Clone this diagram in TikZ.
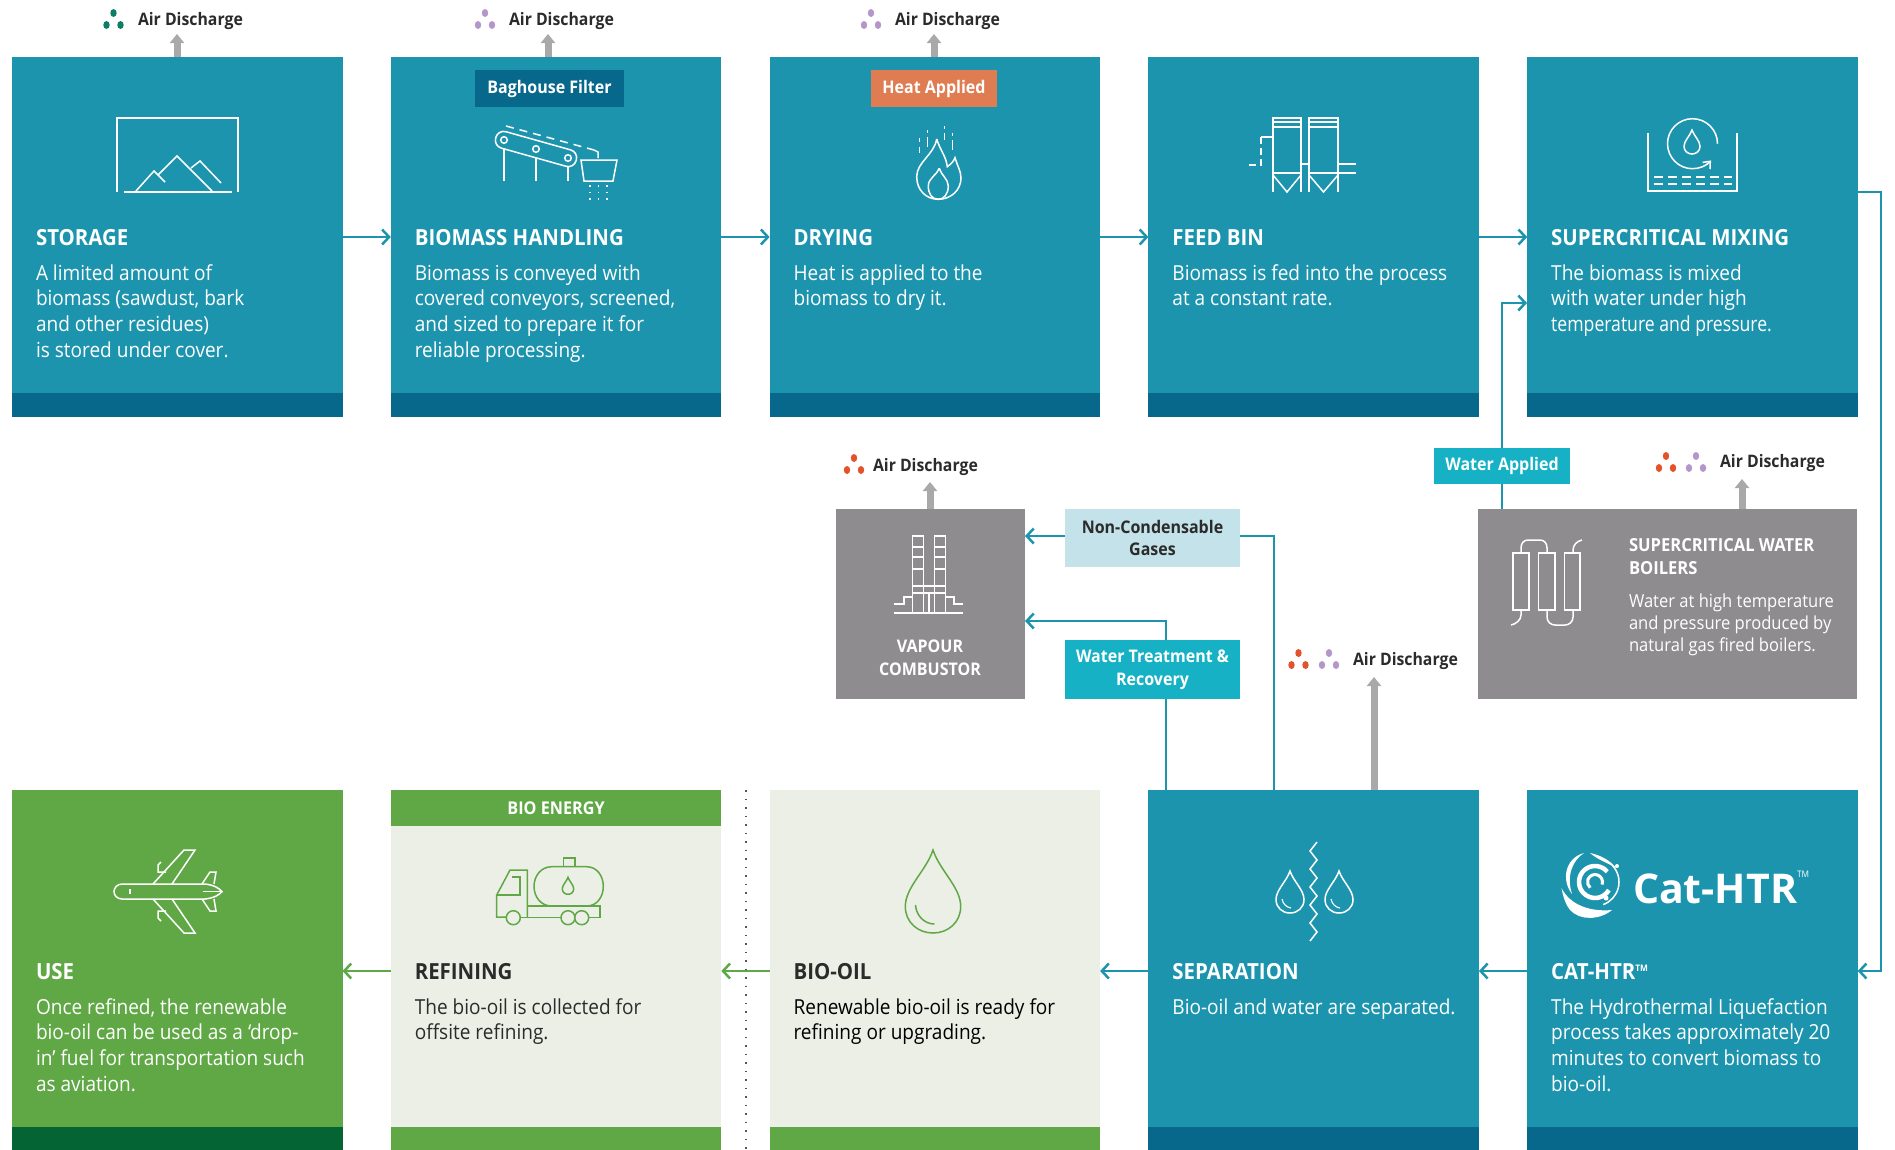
\documentclass[tikz,border=0pt]{standalone}
\usepackage{fontspec}
\setmainfont{Open Sans}[FakeStretch=0.92]
\newfontfamily\logofont{Open Sans}
\usepackage{xcolor}
\usetikzlibrary{positioning,calc,arrows.meta}

\definecolor{tealfill}{HTML}{1C94AD}
\definecolor{tealdark}{HTML}{07688C}
\definecolor{leaf}{HTML}{5FA845}
\definecolor{leafdark}{HTML}{046434}
\definecolor{leafpale}{HTML}{ECEFE5}
\definecolor{greyfill}{HTML}{8E8C8F}
\definecolor{greyarrow}{HTML}{A9A9A9}
\definecolor{aqua}{HTML}{16B1C4}
\definecolor{aquapale}{HTML}{C3E2E9}
\definecolor{heat}{HTML}{DF7C52}
\definecolor{dotgreen}{HTML}{0E7F66}
\definecolor{dotpurple}{HTML}{B596C8}
\definecolor{dotred}{HTML}{E2522B}
\definecolor{inktext}{HTML}{2B2B2B}

\newcommand{\airdots}[3]{%
    \fill[#3] (#1,#2) ellipse (3.2 and 4)
        ({#1-7},{#2+12}) ellipse (3.2 and 4)
        ({#1+7},{#2+12}) ellipse (3.2 and 4);}
\newcommand{\dropicon}[5]{%
    \draw[#1] (#2,#3) .. controls ({#2+0.25*#5},{#3+0.25*(#4-#3)}) and ({#2+#5},{#3+0.45*(#4-#3)}) .. ({#2+#5},{#3+0.68*(#4-#3)})
        .. controls ({#2+#5},{#3+0.87*(#4-#3)}) and ({#2+0.55*#5},#4) .. (#2,#4)
        .. controls ({#2-0.55*#5},#4) and ({#2-#5},{#3+0.87*(#4-#3)}) .. ({#2-#5},{#3+0.68*(#4-#3)})
        .. controls ({#2-#5},{#3+0.45*(#4-#3)}) and ({#2-0.25*#5},{#3+0.25*(#4-#3)}) .. cycle;}

\begin{document}
\begin{tikzpicture}[x=1pt, y=-1pt,
    every node/.style={inner sep=0pt, outer sep=0pt},
    panel/.style={minimum width=330.5pt, minimum height=360pt, anchor=north west, fill=#1},
    lowpanel/.style={panel=#1, minimum height=362pt},
    band/.style={minimum width=330.5pt, minimum height=24pt, anchor=south, fill=#1},
    headtext/.style={anchor=base west, text=#1, font=\fontsize{22.2}{25}\selectfont\bfseries},
    bodytext/.style={anchor=north west, align=left, text=#1, font=\fontsize{20.7}{25.6}\selectfont},
    airtext/.style={anchor=west, text=inktext, font=\fontsize{17.2}{22}\selectfont\bfseries},
    tagbox/.style={minimum width=#1, align=center, text=white, font=\fontsize{17.4}{22.7}\selectfont\bfseries},
    flow/.style={draw=tealfill, line width=2.5pt, -{Straight Barb[length=7pt,width=15pt,line width=2.5pt]}},
    flowline/.style={draw=tealfill, line width=2.5pt},
    leafflow/.style={flow, draw=leaf},
    vent/.style={draw=greyarrow, line width=7pt, -{Triangle[length=9pt,width=14pt]}},
    icon/.style={draw=white, line width=1.5pt},
    leaficon/.style={draw=leaf, line width=1.5pt}]

    \useasboundingbox (0,0) rectangle (1895,1149);

    \node[panel=tealfill] (storage) at (12,57) {};
    \node[panel=tealfill, right=48.3pt of storage] (handling) {};
    \node[panel=tealfill, right=48.3pt of handling] (drying) {};
    \node[panel=tealfill, right=48.3pt of drying] (feedbin) {};
    \node[panel=tealfill, right=48.3pt of feedbin] (mixing) {};
    \node[lowpanel=leaf] (use) at (12,790) {};
    \node[lowpanel=leafpale, right=48.3pt of use] (refining) {};
    \node[lowpanel=leafpale, right=48.3pt of refining] (biooil) {};
    \node[lowpanel=tealfill, right=48.3pt of biooil] (separation) {};
    \node[lowpanel=tealfill, right=48.3pt of separation] (cathtr) {};

    \node[band=tealdark] (storageband) at (storage.south) {};
    \node[band=tealdark] (handlingband) at (handling.south) {};
    \node[band=tealdark] (dryingband) at (drying.south) {};
    \node[band=tealdark] (feedbinband) at (feedbin.south) {};
    \node[band=tealdark] (mixingband) at (mixing.south) {};
    \node[band=leafdark, minimum height=25pt] (useband) at (use.south) {};
    \node[band=leaf, minimum height=25pt] (refiningband) at (refining.south) {};
    \node[band=leaf, minimum height=25pt] (biooilband) at (biooil.south) {};
    \node[band=tealdark, minimum height=25pt] (separationband) at (separation.south) {};
    \node[band=tealdark, minimum height=25pt] (cathtrband) at (cathtr.south) {};
    \node[minimum width=330.5pt, minimum height=36pt, anchor=north, fill=leaf, text=white, font=\fontsize{17.6}{20}\selectfont\bfseries] (bioenergy) at (refining.north) {BIO ENERGY};

    \node[headtext=white] (storagehead) at ($(storage.north west)+(24,188)$) {STORAGE};
    \node[headtext=white] (handlinghead) at ($(handling.north west)+(24,188)$) {BIOMASS HANDLING};
    \node[headtext=white] (dryinghead) at ($(drying.north west)+(24,188)$) {DRYING};
    \node[headtext=white] (feedbinhead) at ($(feedbin.north west)+(24,188)$) {FEED BIN};
    \node[headtext=white] (mixinghead) at ($(mixing.north west)+(24,188)$) {SUPERCRITICAL MIXING};
    \node[headtext=white] (usehead) at ($(use.north west)+(24,189)$) {USE};
    \node[headtext=inktext] (refininghead) at ($(refining.north west)+(24,189)$) {REFINING};
    \node[headtext=inktext] (biooilhead) at ($(biooil.north west)+(24,189)$) {BIO-OIL};
    \node[headtext=white] (separationhead) at ($(separation.north west)+(24,189)$) {SEPARATION};
    \node[headtext=white] (cathtrhead) at ($(cathtr.north west)+(24,189)$) {CAT-HTR\raisebox{8pt}{\fontsize{9}{9}\selectfont TM}};

    \node[bodytext=white] (storagebody) at ($(storage.north west)+(24,207.5)$) {A limited amount of\\biomass (sawdust, bark\\and other residues)\\is stored under cover.};
    \node[bodytext=white] (handlingbody) at ($(handling.north west)+(24,207.5)$) {Biomass is conveyed with\\covered conveyors, screened,\\and sized to prepare it for\\reliable processing.};
    \node[bodytext=white] (dryingbody) at ($(drying.north west)+(24,207.5)$) {Heat is applied to the\\biomass to dry it.};
    \node[bodytext=white] (feedbinbody) at ($(feedbin.north west)+(24,207.5)$) {Biomass is fed into the process\\at a constant rate.};
    \node[bodytext=white] (mixingbody) at ($(mixing.north west)+(24,207.5)$) {The biomass is mixed\\with water under high\\\scalebox{0.925}[1]{temperature and pressure.}};
    \node[bodytext=white] (usebody) at ($(use.north west)+(24,208.5)$) {Once refined, the renewable\\bio-oil can be used as a ‘drop-\\in’ fuel for transportation such\\as aviation.};
    \node[bodytext=inktext] (refiningbody) at ($(refining.north west)+(24,208.5)$) {The bio-oil is collected for\\offsite refining.};
    \node[bodytext=black] (biooilbody) at ($(biooil.north west)+(24,208.5)$) {Renewable bio-oil is ready for\\refining or upgrading.};
    \node[bodytext=white] (separationbody) at ($(separation.north west)+(24,208.5)$) {Bio-oil and water are separated.};
    \node[bodytext=white] (cathtrbody) at ($(cathtr.north west)+(24,208.5)$) {The Hydrothermal Liquefaction\\process takes approximately 20\\minutes to convert biomass to\\bio-oil.};

    \node[tagbox=149pt, minimum height=37pt, fill=tealdark, anchor=north west] (baghouse) at (475,70) {Baghouse Filter};
    \node[tagbox=126pt, minimum height=37pt, fill=heat, anchor=north west] (heatapplied) at (871,70) {Heat Applied};
    \node[tagbox=136pt, minimum height=36pt, fill=aqua, anchor=north west] (waterapplied) at (1434,448) {Water Applied};
    \node[tagbox=175pt, minimum height=58pt, fill=aquapale, anchor=north west, text=inktext] (noncondensable) at (1065,509) {Non-Condensable\\Gases};
    \node[tagbox=175pt, minimum height=59pt, fill=aqua, anchor=north west] (watertreatment) at (1065,640) {Water Treatment \&\\Recovery};

    \node[minimum width=189pt, minimum height=190pt, anchor=north west, fill=greyfill] (combustor) at (836,509) {};
    \node[minimum width=379pt, minimum height=190pt, anchor=north west, fill=greyfill] (boilers) at (1478,509) {};
    \node[anchor=north, align=center, text=white, font=\fontsize{17.4}{22.7}\selectfont\bfseries] (combustortext) at (930,640) {VAPOUR\\COMBUSTOR};
    \node[anchor=north west, align=left, text=white, font=\fontsize{18}{22.7}\selectfont\bfseries] (boilershead) at (1629,538.5) {SUPERCRITICAL WATER\\BOILERS};
    \node[anchor=north west, align=left, text=white, font=\fontsize{18}{22.4}\selectfont] (boilersbody) at (1629,593.5) {Water at high temperature\\and pressure produced by\\natural gas fired boilers.};

    \node[airtext] (airstorage) at (138,21) {Air Discharge};
    \node[airtext] (airhandling) at (509,21) {Air Discharge};
    \node[airtext] (airdrying) at (895,21) {Air Discharge};
    \node[airtext] (aircombustor) at (873,467) {Air Discharge};
    \node[airtext] (airseparation) at (1353,661) {Air Discharge};
    \node[airtext] (airboilers) at (1720,463) {Air Discharge};

    \airdots{113.5}{13}{dotgreen}
    \airdots{485}{13}{dotpurple}
    \airdots{871}{13}{dotpurple}
    \airdots{854}{458}{dotred}
    \airdots{1298.5}{653}{dotred}
    \airdots{1329}{653}{dotpurple}
    \airdots{1666}{456}{dotred}
    \airdots{1696}{456}{dotpurple}

    \coordinate (ventstorage) at (177,34);
    \coordinate (venthandling) at (548,34);
    \coordinate (ventdrying) at (934,34);
    \coordinate (ventcombustor) at (930,482);
    \coordinate (ventboilers) at (1742,479);
    \coordinate (ventseparation) at (1374,677);
    \draw[vent] (storage.north -| ventstorage) -- (ventstorage);
    \draw[vent] (handling.north -| venthandling) -- (venthandling);
    \draw[vent] (drying.north -| ventdrying) -- (ventdrying);
    \draw[vent] (combustor.north -| ventcombustor) -- (ventcombustor);
    \draw[vent] (boilers.north -| ventboilers) -- (ventboilers);
    \draw[vent] (separation.north -| ventseparation) -- (ventseparation);

    \draw[flow] (storage.east) -- (handling.west);
    \draw[flow] (handling.east) -- (drying.west);
    \draw[flow] (drying.east) -- (feedbin.west);
    \draw[flow] (feedbin.east) -- (mixing.west);
    \draw[flow] (cathtr.west) -- (separation.east);
    \draw[flow] (separation.west) -- (biooil.east);
    \draw[leafflow] (biooil.west) -- (refining.east);
    \draw[leafflow] (refining.west) -- (use.east);

    \coordinate (sidebend) at (1881,192);
    \coordinate (waterin) at (1527,303);
    \coordinate (gasbend) at (1274,536);
    \coordinate (treatup) at (1166,640);
    \coordinate (treatin) at (1025,621);
    \draw[flow] (mixing.north east |- sidebend) -- (sidebend) |- (cathtr.east);
    \draw[flowline] (boilers.north -| waterapplied) -- (waterapplied.south);
    \draw[flow] (waterapplied.north) |- (waterin);
    \draw[flowline] (separation.north -| gasbend) -- (gasbend) -- (noncondensable.east |- gasbend);
    \draw[flow] (noncondensable.west |- gasbend) -- (combustor.east |- gasbend);
    \draw[flowline] (separation.north -| treatup) -- (watertreatment.south -| treatup);
    \draw[flow] (treatup) |- (treatin);

    \coordinate (cutoff) at (746,790);
    \draw[line width=1.2pt, dash pattern=on 1.5pt off 7pt, draw=inktext!80] (cutoff) -- (746,1149);

    \draw[icon] (117,192) -- (117,118) -- (238,118) -- (238,192);
    \draw[icon] (124,192) -- (232,192);
    \draw[icon] (136,191) -- (154,171) -- (165,182);
    \draw[icon] (158,175) -- (177,156) -- (212,191);
    \draw[icon] (191,168) -- (200,161) -- (221,183);

    \draw[icon, rounded corners=8pt] (498.1,129.5) -- (578.5,152.1) -- (573.9,168.5) -- (493.5,145.9) -- cycle;
    \draw[icon] (504,140) circle (3.3) (536,149) circle (3.3) (568,158) circle (3.3);
    \draw[icon] (504,148.8) -- (504,181) (536,157.8) -- (536,181) (568,166.8) -- (568,181);
    \draw[icon, dash pattern=on 8pt off 6pt] (506,126) -- (594,150);
    \draw[icon] (594,150) -- (598,152) -- (598,158);
    \draw[icon] (581,160) -- (617,160) -- (613,181) -- (584,181) -- cycle;
    \draw[icon, line width=1.3pt, dash pattern=on 1.5pt off 5pt] (590,185) -- (590,201) (598.5,185) -- (598.5,201) (607,185) -- (607,201);

    \draw[icon] (936.7,139) .. controls (940,150) and (946,156) .. (947.3,166.7) .. controls (951,164) and (954,161) .. (955,157.7)
        .. controls (957,165) and (961,171) .. (961,178) .. controls (961,190) and (951,199.3) .. (938.3,199.3)
        .. controls (926,199.3) and (916.7,190) .. (916.7,176.7) .. controls (916.7,162) and (934,155) .. (936.7,139);
    \draw[icon] (939.3,168.3) .. controls (941,175) and (948.3,179) .. (948.3,186) .. controls (948.3,194) and (944,199.3) .. (938.3,199.3)
        .. controls (932,199.3) and (928.3,194) .. (928.3,186) .. controls (928.3,178) and (937,175) .. (939.3,168.3);
    \draw[icon, line width=1.2pt] (919.3,138) -- (919.3,142) (919.3,147) -- (919.3,153) (927.3,130) -- (927.3,133) (927.3,137) -- (927.3,147)
        (944.3,126) -- (944.3,129) (944.3,133) -- (944.3,140) (952.3,133) -- (952.3,136) (952.3,140) -- (952.3,150);

    \draw[icon] (1273,192) -- (1273,118) -- (1301,118) -- (1301,192) (1309,192) -- (1309,118) -- (1338,118) -- (1338,192);
    \draw[icon] (1273,122) -- (1301,122) (1273,127) -- (1301,127) (1309,122) -- (1338,122) (1309,127) -- (1338,127);
    \draw[icon] (1273,173) -- (1301,173) (1309,173) -- (1338,173);
    \draw[icon] (1273,175) -- (1287,192) -- (1301,175) (1309,175) -- (1323.5,192) -- (1338,175);
    \draw[icon] (1301,164) -- (1309,164) (1338,164) -- (1356,164) (1338,173) -- (1356,173) (1273,137) -- (1261,137);
    \draw[icon, dash pattern=on 7pt off 4pt] (1261,137) -- (1261,165) -- (1248,165);

    \draw[icon] (1648,133) -- (1648,191) -- (1737,191) -- (1737,133);
    \draw[icon, dash pattern=on 9pt off 5pt] (1654,177) -- (1732,177) (1654,184) -- (1732,184);
    \draw[icon, -{Straight Barb[length=6pt,width=10pt,line width=1.5pt]}] (1717.5,143.7) arc (0:-318:25);
    \dropicon{icon}{1692}{130}{154}{8}

    \draw[icon] (205,884) -- (122,884) .. controls (117,884) and (114,888) .. (114,891.7) .. controls (114,895) and (117,899) .. (122,899) -- (205,899)
        .. controls (214,898) and (219,895) .. (222,891.7) .. controls (219,888) and (214,885) .. (205,884);
    \draw[icon] (153,884) -- (184,850) -- (195,850) -- (172,884) (153,899) -- (184,933) -- (195,933) -- (172,899);
    \draw[icon] (161,862) -- (158,865) -- (158,872) -- (166,872) (161,921) -- (158,918) -- (158,911) -- (166,911);
    \draw[icon] (202,884) -- (210,872) -- (216,872) -- (214,884) (202,899) -- (210,911) -- (216,911) -- (214,899);
    \draw[icon] (203,891.7) -- (222,891.7) (130,889) -- (130,894);

    \draw[leaficon] (551.7,866.7) -- (586.7,866.7) .. controls (597,866.7) and (603.3,876) .. (603.3,886.3) .. controls (603.3,897) and (597,906) .. (586.7,906)
        -- (551.7,906) .. controls (541,906) and (534,897) .. (534,886.3) .. controls (534,876) and (541,866.7) .. (551.7,866.7);
    \draw[leaficon] (563.3,866.7) -- (563.3,858) -- (575,858) -- (575,866.7);
    \dropicon{leaficon}{568}{877.3}{894.3}{5.7}
    \draw[leaficon] (506.3,917) -- (496.7,917) -- (496.7,895) -- (510,870) -- (527.3,870) -- (527.3,917);
    \draw[leaficon] (496.7,895) -- (520,895) -- (520,877) -- (511.7,877);
    \draw[leaficon] (527.3,906) -- (600,906) -- (600,917.3) -- (588.7,917.3) (520.3,917.3) -- (561,917.3);
    \draw[leaficon] (513.3,917.7) circle (7) (568,917.7) circle (7) (581.7,917.7) circle (7);

    \dropicon{leaficon}{933}{850}{933}{27.7}
    \draw[leaficon] (915.5,905) .. controls (916,915) and (924,924) .. (934.4,924);

    \draw[icon] (1317,842) -- (1310,851) -- (1317,860) -- (1310,869) -- (1317,878) -- (1310,887) -- (1317,896) -- (1310,905) -- (1317,914) -- (1310,923) -- (1317,932) -- (1310,941);
    \dropicon{icon}{1290}{871}{913}{14}
    \dropicon{icon}{1339}{871}{913}{14}
    \draw[icon, line width=1.1pt] (1282,899) .. controls (1283,904) and (1286,907) .. (1291,908);
    \draw[icon, line width=1.1pt] (1331,899) .. controls (1332,904) and (1335,907) .. (1340,908);

    \draw[icon] (912.5,613) -- (912.5,536) -- (923.5,536) -- (923.5,613) (934.5,613) -- (934.5,536) -- (945.5,536) -- (945.5,613);
    \foreach \rungy in {547,557,569,586,593} {
        \draw[icon, line width=1.2pt] (912.5,\rungy) -- (923.5,\rungy) (934.5,\rungy) -- (945.5,\rungy);
    }
    \draw[icon] (923.5,586) -- (934.5,586) (923.5,593) -- (934.5,593) (929,593) -- (929,613);
    \draw[icon] (894,604) -- (904,604) -- (904,597) -- (912.5,597) (945.5,597) -- (954,597) -- (954,604) -- (962.6,604);
    \draw[icon] (894,613) -- (962.6,613);

    \draw[icon] (1513,553) rectangle (1529,610) (1538.5,553) rectangle (1555,610) (1564.5,553) rectangle (1580,610);
    \draw[icon] (1521,553) -- (1521,548) .. controls (1521,543) and (1524,540) .. (1528,540) -- (1540,540) .. controls (1544,540) and (1547,543) .. (1547,548) -- (1547,553);
    \draw[icon] (1573,553) -- (1573,550) .. controls (1573,545) and (1577,541) .. (1582,540);
    \draw[icon] (1521,610) -- (1521,615) .. controls (1521,620) and (1516,624) .. (1511,625);
    \draw[icon] (1547,610) -- (1547,617) .. controls (1547,622) and (1551,625) .. (1555,625) -- (1565,625) .. controls (1569,625) and (1573,622) .. (1573,617) -- (1573,610);

    \node[anchor=base west, text=white, font=\fontsize{41}{41}\selectfont\logofont\bfseries] (catlogo) at (1633,903) {Cat-HTR};
    \node[anchor=north west, text=white, font=\fontsize{9}{9}\selectfont] (catmark) at (1797,871) {TM};
    \fill[white] (1561.5,888) .. controls (1570,905) and (1590,912) .. (1612,910) .. controls (1600,920) and (1580,921) .. (1570,910) .. controls (1566,905) and (1563,897) .. cycle;
    \fill[white] (1584,853) .. controls (1573,860) and (1566,875) .. (1572,894) .. controls (1561,880) and (1565,858) .. cycle;
    \fill[white] (1590,853) .. controls (1600,855) and (1610,860) .. (1616,868) .. controls (1608,863) and (1598,860) .. cycle;
    \draw[white, line width=1.5pt] (1595,882) ++(-45:24) arc (-45:70:24);
    \draw[white, line width=4.5pt] (1595,882) ++(-40:16) arc (-40:-330:16);
    \draw[white, line width=3pt] (1595,882) ++(20:7.5) arc (20:-230:7.5);
    \fill[white] (1617,866) circle (2) (1606,898) circle (2.5);
\end{tikzpicture}
\end{document}
